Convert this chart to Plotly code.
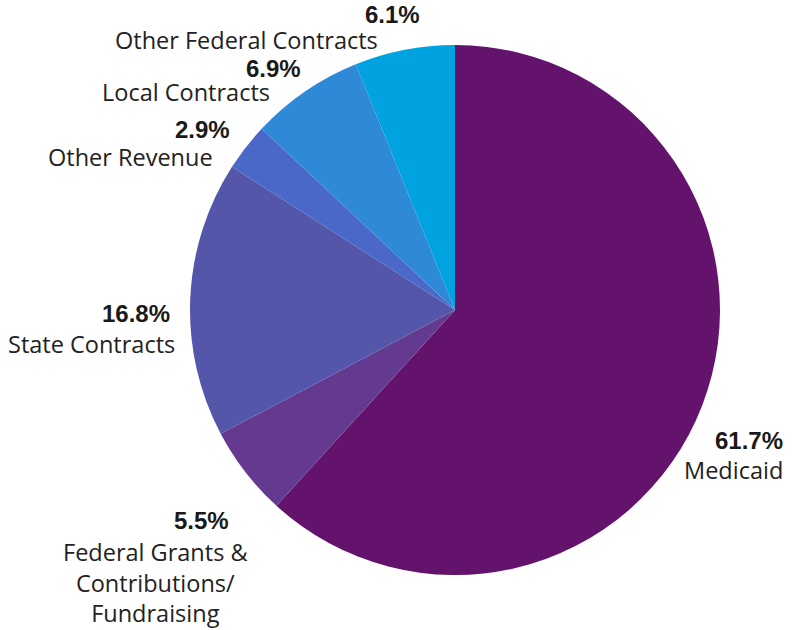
import plotly.graph_objects as go

labels = ["Medicaid", "Federal Grants &<br>Contributions/<br>Fundraising", "State Contracts",
          "Other Revenue", "Local Contracts", "Other Federal Contracts"]
values = [61.7, 5.5, 16.8, 2.9, 6.9, 6.1]
colors = ["#63136B", "#643A91", "#5456AA", "#4A68C8", "#2E89D6", "#00A2E0"]

W, H = 798, 630
cx, cy, r = 455, 310, 265

fig = go.Figure(go.Pie(
    labels=labels, values=values, sort=False, direction="clockwise", rotation=0,
    marker=dict(colors=colors, line=dict(width=0)),
    textinfo="none", hoverinfo="label+percent", showlegend=False,
    domain=dict(x=[(cx - r) / W, (cx + r) / W], y=[1 - (cy + r) / H, 1 - (cy - r) / H]),
))

# label placement: (pct right x, pct y, name x, name y, name anchor)
pos = [
    (785, 440, 785, 470, "right"),
    (231, 520, 155, 582, "center"),
    (172, 313, 177, 344, "right"),
    (232, 130, 215, 157, "right"),
    (303, 68, 272, 92, "right"),
    (422, 14, 380, 40, "right"),
]

ann = []
for lab, v, (px, py, nx, ny, na) in zip(labels, values, pos):
    ann.append(dict(x=px / W, y=1 - py / H, xref="paper", yref="paper", xanchor="right",
                    yanchor="middle", showarrow=False, text=f"<b>{v:.1f}%</b>",
                    font=dict(family="Liberation Sans, Arial", size=24, color="#1a1a1a")))
    ann.append(dict(x=nx / W, y=1 - ny / H, xref="paper", yref="paper", xanchor=na,
                    yanchor="middle", showarrow=False, text=lab, align=na,
                    font=dict(family="Open Sans", size=23.5, color="#222222")))

fig.update_layout(width=W, height=H, margin=dict(l=0, r=0, t=0, b=0),
                  paper_bgcolor="white", plot_bgcolor="white", annotations=ann)
fig.write_html("out.html", config={"displayModeBar": False},
               post_script="document.body.style.margin='0';")
